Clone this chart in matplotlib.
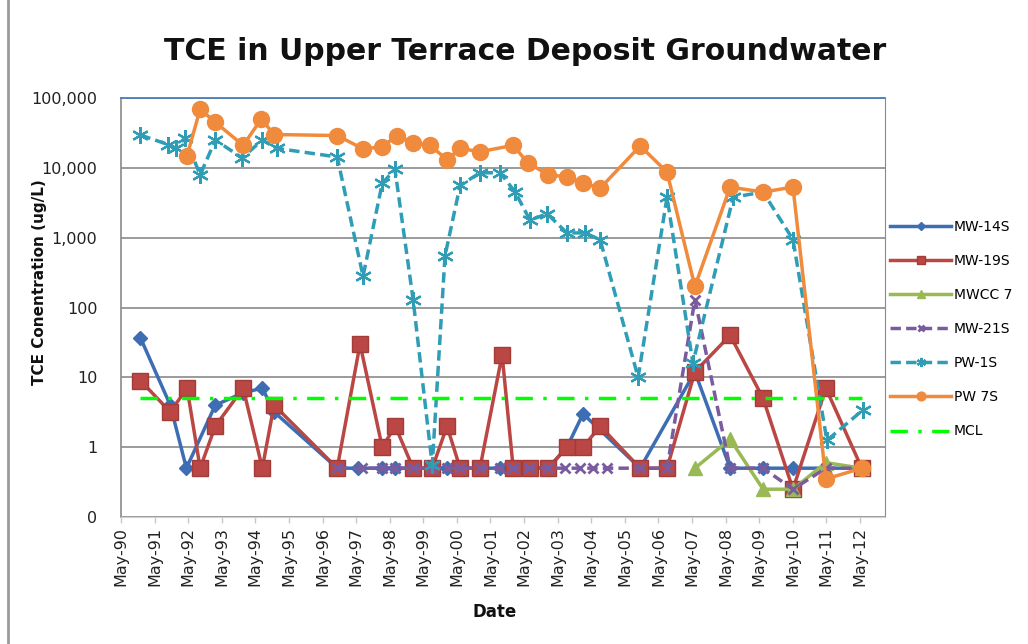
import matplotlib
matplotlib.use("Agg")
import matplotlib.pyplot as plt
from matplotlib.lines import Line2D

# ---------------- data (decimal years, ug/L) ----------------
mw14s_x = [1990.91, 1991.80, 1992.28, 1993.14, 1993.97, 1994.54, 1994.89, 1996.77, 1997.40,
           1998.11, 1998.50, 1999.03, 1999.60, 2000.04, 2000.43, 2001.02, 2001.62, 2002.01,
           2002.48, 2003.05, 2003.61, 2004.09, 2005.79, 2007.42, 2008.47, 2009.45, 2010.34,
           2011.32, 2012.39]
mw14s_y = [37, 4, 0.5, 4, 6, 7, 3.2, 0.5, 0.5, 0.5, 0.5, 0.5, 0.5, 0.5, 0.5, 0.5, 0.5, 0.5,
           0.5, 0.5, 1, 3, 0.5, 12, 0.5, 0.5, 0.5, 0.5, 0.5]

mw19s_x = [1990.91, 1991.80, 1992.30, 1992.69, 1993.14, 1993.97, 1994.54, 1994.89, 1996.77,
           1997.45, 1998.11, 1998.50, 1999.03, 1999.60, 2000.04, 2000.43, 2001.02, 2001.68,
           2002.01, 2002.51, 2003.05, 2003.61, 2004.09, 2004.60, 2005.79, 2006.59, 2007.42,
           2008.47, 2009.45, 2010.34, 2011.32, 2012.39]
mw19s_y = [9, 3.2, 7, 0.5, 2, 7, 0.5, 4, 0.5, 30, 1, 2, 0.5, 0.5, 2, 0.5, 0.5, 21, 0.5, 0.5,
           0.5, 1, 1, 2, 0.5, 0.5, 12, 40, 5, 0.25, 7, 0.5]

mwcc7_x = [2007.42, 2008.47, 2009.45, 2010.34, 2011.32, 2012.39]
mwcc7_y = [0.5, 1.3, 0.25, 0.25, 0.6, 0.5]

mw21s_x = [1996.77, 1997.50, 1998.11, 1998.50, 1999.03, 1999.60, 2000.04, 2000.43, 2001.02,
           2001.62, 2002.01, 2002.48, 2003.05, 2003.55, 2004.00, 2004.40, 2004.80, 2005.79,
           2006.59, 2007.42, 2008.47, 2009.45, 2010.34, 2011.32, 2012.39]
mw21s_y = [0.5, 0.5, 0.5, 0.5, 0.5, 0.5, 0.5, 0.5, 0.5, 0.5, 0.5, 0.5, 0.5, 0.5, 0.5, 0.5,
           0.5, 0.5, 0.5, 130, 0.5, 0.5, 0.25, 0.5, 0.5]

pw1s_x = [1990.91, 1991.74, 1991.98, 1992.24, 1992.69, 1993.14, 1993.94, 1994.54, 1994.98,
          1996.77, 1997.54, 1998.11, 1998.49, 1999.03, 1999.60, 1999.98, 2000.43, 2001.02,
          2001.62, 2002.07, 2002.51, 2003.02, 2003.61, 2004.15, 2004.60, 2005.73, 2006.59,
          2007.36, 2008.56, 2009.45, 2010.34, 2011.35, 2012.42]
pw1s_y = [29500, 21500, 19000, 27000, 7900, 25000, 13900, 25000, 19000, 14300, 280, 6000,
          9500, 130, 0.55, 550, 5600, 8500, 8500, 4500, 1780, 2200, 1170, 1170, 930, 10,
          3800, 16, 3800, 4500, 940, 1.25, 3.4]

pw7s_x = [1992.30, 1992.69, 1993.14, 1993.97, 1994.51, 1994.89, 1996.77, 1997.54, 1998.11,
          1998.55, 1999.03, 1999.54, 2000.04, 2000.43, 2001.02, 2002.01, 2002.45, 2003.05,
          2003.61, 2004.09, 2004.60, 2005.79, 2006.59, 2007.42, 2008.47, 2009.45, 2010.34,
          2011.32, 2012.39]
pw7s_y = [15000, 69000, 45000, 21000, 50000, 30000, 29000, 18700, 20000, 29000, 23000, 21000,
          13000, 19000, 17000, 21000, 11700, 8000, 7400, 6100, 5100, 20600, 8700, 200, 5300,
          4500, 5300, 0.35, 0.5]

mcl_x = [1990.91, 2012.39]
mcl_y = [5, 5]

tick_years = list(range(1990, 2013))
tick_labels = ["May-%02d" % (y % 100) for y in tick_years]
y_ticks = [0.1, 1, 10, 100, 1000, 10000, 100000]
y_tick_labels = ["0", "1", "10", "100", "1,000", "10,000", "100,000"]

# ---------------- figure ----------------
W, H = 1028, 644
fig = plt.figure(figsize=(W / 100, H / 100), dpi=100)
fig.patch.set_facecolor("white")
ax = fig.add_axes([121 / W, 1 - 517 / H, (885 - 121) / W, (517 - 98) / H])

series = [
    ("MW-14S", mw14s_x, mw14s_y, dict(color="#3D6DB3", marker="D", ms=7, ls="-")),
    ("MW-19S", mw19s_x, mw19s_y, dict(color="#BA4744", marker="s", ms=11, ls="-",
                                       mec="#A23C39")),
    ("MWCC 7", mwcc7_x, mwcc7_y, dict(color="#98B954", marker="^", ms=10, ls="-")),
    ("MW-21S", mw21s_x, mw21s_y, dict(color="#7A5C9E", marker="x", ms=7, mew=2,
                                       ls=(0, (3, 1.5)))),
    ("PW-1S", pw1s_x, pw1s_y, dict(color="#2F9DB5", marker=(6, 2, 0), ms=12, mew=1.6,
                                     ls=(0, (3, 1.5)))),
    ("PW 7S", pw7s_x, pw7s_y, dict(color="#F08A3C", marker="o", ms=11.5, ls="-")),
]
handles = []
for name, xs, ys, st in series:
    (ln,) = ax.plot(xs, ys, lw=2.5, label=name, **st)
    handles.append(ln)

(mcl,) = ax.plot(mcl_x, mcl_y, color="#00FF00", lw=2.5, ls=(0, (5, 3, 1, 3)), label="MCL")
handles.append(mcl)

ax.set_yscale("log")
ax.set_ylim(0.1, 100000)
ax.set_xlim(1990.333, 2013.08)
ax.set_yticks(y_ticks)
ax.set_yticklabels(y_tick_labels)
ax.minorticks_off()
ax.set_xticks([y + 4 / 12 for y in tick_years])
ax.set_xticklabels(tick_labels, rotation=90)

ax.yaxis.grid(True, color="#8A8A8A", lw=1.2)
ax.set_axisbelow(True)
ax.tick_params(axis="y", length=0, pad=17, labelsize=11.5)
ax.tick_params(axis="x", length=4, width=1, color="#C8C8C8", pad=3, labelsize=11.5)
for lab in ax.get_yticklabels() + ax.get_xticklabels():
    lab.set_color("#222222")

ax.spines["top"].set_color("#4A7EBB")
ax.spines["top"].set_linewidth(1.3)
ax.spines["right"].set_color("#8A8A8A")
ax.spines["left"].set_color("#8A8A8A")
ax.spines["left"].set_linewidth(1.2)
ax.spines["bottom"].set_color("#D0D0D0")

fig.text(525 / W, 1 - 52 / H, "TCE in Upper Terrace Deposit Groundwater", ha="center",
         va="center", fontsize=21.5, fontweight="bold", color="#111111")
fig.text(40 / W, 1 - 282 / H, "TCE Conentration (ug/L)", rotation=90, ha="center",
         va="center", fontsize=11, fontweight="bold", color="#111111")
fig.text(495 / W, 1 - 612 / H, "Date", ha="center", va="center", fontsize=12,
         fontweight="bold", color="#111111")

fig.legend(handles=handles, loc="center left", bbox_to_anchor=(890 / W, 1 - 329 / H),
           frameon=False, fontsize=10, handlelength=4.4, labelspacing=1.45,
           markerscale=0.55, handletextpad=0.2, borderaxespad=0, borderpad=0)

fig.add_artist(Line2D([8 / W, 8 / W], [0, 1], transform=fig.transFigure, color="#9A9A9A",
                      lw=2))

fig.savefig("out.png", dpi=100, facecolor="white")
